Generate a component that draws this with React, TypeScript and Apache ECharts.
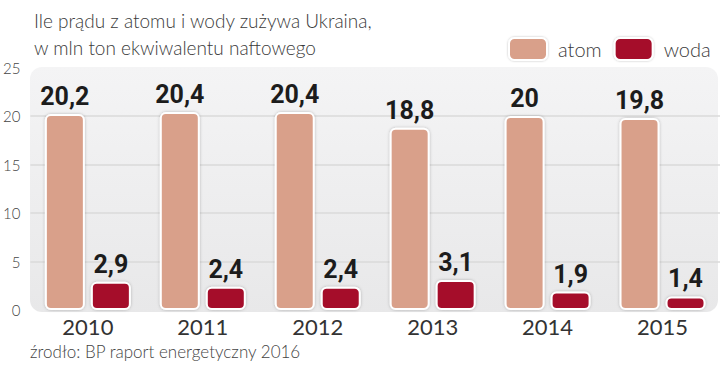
import React, { useEffect, useRef } from "react";
import * as echarts from "echarts";

const categories = ["2010", "2011", "2012", "2013", "2014", "2015"];
const atomValues = [20.2, 20.4, 20.4, 18.8, 20, 19.8];
const wodaValues = [2.9, 2.4, 2.4, 3.1, 1.9, 1.4];
const seriesNames = ["atom", "woda"];
const titleLines = ["Ile prądu z atomu i wody zużywa Ukraina,", "w mln ton ekwiwalentu naftowego"];
const sourceText = "źrodło: BP raport energetyczny 2016";

const LIGHT_FONT = "Lato, 'Open Sans', sans-serif";
const LABEL_FONT = "Roboto, 'DejaVu Sans', sans-serif";

export default function App() {
  const ref = useRef<HTMLDivElement>(null);
  useEffect(() => {
    if (!ref.current) return;
    const chart = echarts.init(ref.current, null, { renderer: "svg" });
    const labelCfg = {
      show: true,
      position: "top",
      distance: 5,
      fontFamily: LABEL_FONT,
      fontWeight: "bold",
      fontSize: 25,
      color: "#1c1c1c",
      formatter: (p: any) => String(p.value).replace(".", ","),
    };
    const itemBase = {
      borderColor: "#ffffff",
      borderWidth: 2,
      borderRadius: 5,
      shadowBlur: 3,
      shadowColor: "rgba(0,0,0,0.25)",
    };
    chart.setOption({
      animation: false,
      backgroundColor: "#ffffff",
      textStyle: { fontFamily: LIGHT_FONT },
      title: {
        text: titleLines.join("\n"),
        left: 29,
        top: 2,
        textStyle: { fontFamily: LIGHT_FONT, fontSize: 19, fontWeight: 300, color: "#3a3a3a", lineHeight: 27 },
      },
      graphic: [
        {
          type: "rect",
          left: 30,
          top: 67,
          z: -10,
          shape: { width: 688, height: 245, r: 12 },
          style: {
            fill: new echarts.graphic.LinearGradient(0, 0, 0, 1, [
              { offset: 0, color: "#f4f4f5" },
              { offset: 1, color: "#e8e8e9" },
            ]),
          },
        },
        {
          type: "text",
          left: 30,
          top: 343,
          style: { text: sourceText, fontFamily: LIGHT_FONT, fontSize: 17, fontWeight: 300, fill: "#444" },
        },
      ],
      legend: {
        data: seriesNames,
        left: 503,
        top: 32,
        itemWidth: 38,
        itemHeight: 22,
        itemGap: 12,
        icon: "roundRect",
        itemStyle: { borderColor: "#fff", borderWidth: 2, shadowBlur: 2, shadowColor: "rgba(0,0,0,0.25)" },
        textStyle: { fontFamily: LIGHT_FONT, fontSize: 20, fontWeight: 300, color: "#3a3a3a", padding: [0, 0, 0, 6] },
      },
      grid: { left: 30, right: 0, top: 67.5, bottom: 55, containLabel: false },
      xAxis: {
        type: "category",
        data: categories,
        axisLine: { show: false },
        axisTick: { show: false },
        axisLabel: { fontFamily: LIGHT_FONT, fontSize: 22, color: "#333", margin: 5 },
      },
      yAxis: {
        type: "value",
        min: 0,
        max: 25,
        interval: 5,
        axisLine: { show: false },
        axisTick: { show: false },
        axisLabel: { fontFamily: LIGHT_FONT, fontSize: 15, fontWeight: 300, color: "#444", margin: 10 },
        splitLine: {
          show: true,
          lineStyle: {
            color: ["transparent", "#dadada", "#dadada", "#dadada", "#dadada", "transparent"],
            width: 1.5,
          },
        },
      },
      series: [
        {
          name: seriesNames[0],
          type: "bar",
          data: atomValues,
          barWidth: 40,
          barGap: "15%",
          itemStyle: { ...itemBase, color: "#d9a08a" },
          label: labelCfg,
        },
        {
          name: seriesNames[1],
          type: "bar",
          data: wodaValues,
          barWidth: 40,
          itemStyle: { ...itemBase, color: "#a50f2b" },
          label: labelCfg,
        },
      ],
    });
    return () => chart.dispose();
  }, []);
  return <div ref={ref} style={{ width: 720, height: 365, position: "absolute", left: 0, top: 0 }} />;
}
